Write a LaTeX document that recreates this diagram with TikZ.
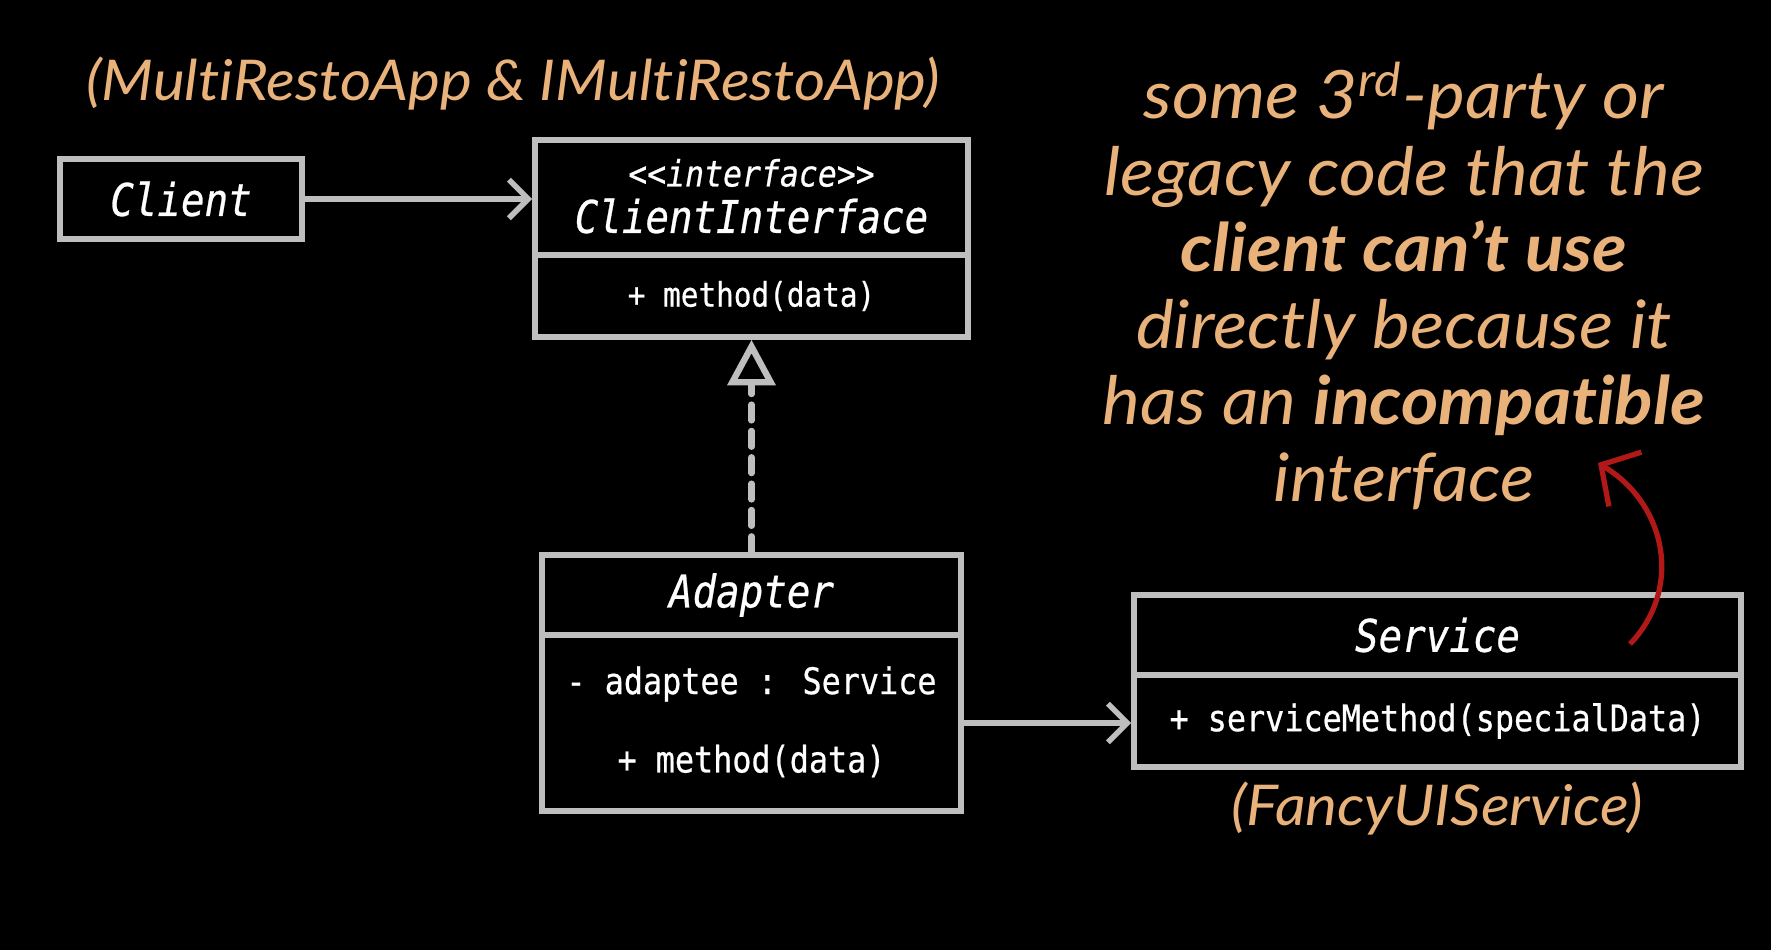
\documentclass[tikz,border=0pt]{standalone}
\usepackage{fontspec}
\usetikzlibrary{arrows.meta,positioning}
\newfontfamily\codefont{DejaVu Sans Mono}[FakeStretch=0.87,FakeBold=0.6]
\newfontfamily\notefont{Lato}[FakeStretch=1.07,Ligatures=NoCommon]
\definecolor{boxgray}{RGB}{190,190,190}
\definecolor{notetan}{RGB}{233,178,122}
\definecolor{markred}{RGB}{178,24,24}
\tikzset{
  classbox/.style={draw=boxgray,line width=1.6pt,fill=black,inner sep=0pt},
  codetext/.style={text=white,font=\codefont\fontsize{#1}{#1}\selectfont},
  notetext/.style 2 args={text=notetan,align=center,font=\notefont\itshape\fontsize{#1}{#2}\selectfont},
  link/.style={draw=boxgray,line width=1.6pt,-{Straight Barb[length=5.5pt,width=11pt]}},
  realize/.style={draw=boxgray,line width=1.8pt,dash pattern=on 4.5pt off 3pt,line cap=round,-{Triangle[open,length=13pt,width=13.5pt]}}
}
\begin{document}
\begin{tikzpicture}[x=0.1mm,y=-0.1mm]
    \fill[black] (0,0) rectangle (1771,950);
    \useasboundingbox (0,0) rectangle (1771,950);
    \node[notetext={16}{19}] (title) at (513,84) {(MultiRestoApp \& IMultiRestoApp)};
    \node[classbox,minimum width=24.2mm,minimum height=8mm,codetext=12.8] (client) at (181,199) {\itshape Client};
    \node[classbox,minimum width=43.3mm,minimum height=11.5mm] (ciHead) at (751.5,197.5) {};
    \node[classbox,minimum width=43.3mm,minimum height=8.2mm,codetext=9.6] (ciBody) at (751.5,296) {+ method(data)};
    \node[codetext=10.3] (ciStereo) at (751.5,173) {\itshape{<}{<}interface{>}{>}};
    \node[codetext=12.8] (ciName) at (751.5,216) {\itshape ClientInterface};
    \node[classbox,minimum width=41.9mm,minimum height=8mm,codetext=12.8] (adHead) at (751.5,595) {\itshape Adapter};
    \node[classbox,minimum width=41.9mm,minimum height=17.6mm] (adBody) at (751.5,723) {};
    \node[codetext=10.4] (adField) at (751.5,684) {- adaptee : Service};
    \node[codetext=10.4] (adMethod) at (751.5,761) {+ method(data)};
    \node[classbox,minimum width=60.7mm,minimum height=8mm,codetext=12.8] (svHead) at (1437.5,635) {\itshape Service};
    \node[classbox,minimum width=60.7mm,minimum height=9.2mm,codetext=10.4] (svBody) at (1437.5,721) {+ serviceMethod(specialData)};
    \node[notetext={16}{19}] (svAlias) at (1437,809) {(FancyUIService)};
    \node[notetext={19}{21.8}] (note) at (1404,286) {some 3\textsuperscript{rd}-party or\\ legacy code that the\\ \textbf{client can’t use}\\ directly because it\\ has an \textbf{incompatible}\\ interface};
    \draw[link] (client.east) -- (client.east -| ciHead.west);
    \draw[realize] (adHead.north) -- (ciBody.south);
    \draw[link] (adBody.east) -- (adBody.east -| svBody.west);
    \coordinate (redTail) at (1630,644);
    \coordinate (redTip) at (1598,463);
    \draw[markred,line width=1.5pt,-{Straight Barb[length=8pt,width=18pt]}] (redTail) .. controls (1682,590) and (1668,505) .. (redTip);
\end{tikzpicture}
\end{document}
